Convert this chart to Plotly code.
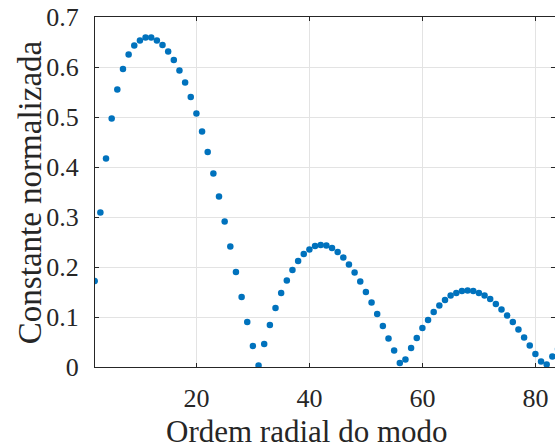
import plotly.graph_objects as go

# Radial mode order and normalized constant
ordem = list(range(2, 85))
constante = [
    0.172, 0.309, 0.417, 0.497, 0.555, 0.596, 0.625, 0.643, 0.653, 0.659,
    0.659, 0.653, 0.644, 0.631, 0.614, 0.593, 0.569, 0.540, 0.507, 0.471,
    0.430, 0.387, 0.341, 0.291, 0.241, 0.190, 0.140, 0.090, 0.042, 0.003,
    0.046, 0.084, 0.118, 0.148, 0.173, 0.194, 0.212, 0.226, 0.235, 0.242,
    0.244, 0.243, 0.238, 0.230, 0.219, 0.205, 0.189, 0.171, 0.150, 0.129,
    0.106, 0.082, 0.057, 0.033, 0.008, 0.015, 0.038, 0.058, 0.078, 0.094,
    0.110, 0.123, 0.134, 0.143, 0.148, 0.152, 0.153, 0.152, 0.148, 0.143,
    0.136, 0.126, 0.115, 0.103, 0.090, 0.075, 0.059, 0.043, 0.026, 0.011,
    0.005, 0.021, 0.036,
]

x_ticks = [20, 40, 60, 80]
y_ticks = [0, 0.1, 0.2, 0.3, 0.4, 0.5, 0.6, 0.7]
y_tick_text = ["0", "0.1", "0.2", "0.3", "0.4", "0.5", "0.6", "0.7"]

FONT = "Liberation Serif"
AXIS_COLOR = "#262626"

fig = go.Figure(
    go.Scatter(
        x=ordem,
        y=constante,
        mode="markers",
        marker=dict(color="#0072BD", size=6.5, line=dict(width=0)),
        showlegend=False,
    )
)

axis_common = dict(
    showline=True,
    linecolor=AXIS_COLOR,
    linewidth=1,
    mirror="ticks",
    ticks="inside",
    ticklen=4,
    tickcolor=AXIS_COLOR,
    showgrid=True,
    gridcolor="#e3e3e3",
    gridwidth=1,
    zeroline=False,
    tickfont=dict(family=FONT, size=26, color=AXIS_COLOR),
)

fig.update_xaxes(
    range=[2.05, 83.47],
    tickvals=x_ticks,
    ticktext=[str(v) for v in x_ticks],
    ticklabelstandoff=8,
    **axis_common,
)
fig.update_yaxes(
    range=[0, 0.7],
    tickvals=y_ticks,
    ticktext=y_tick_text,
    ticklabelstandoff=10,
    **axis_common,
)

fig.add_annotation(
    text="Ordem radial do modo",
    xref="paper", yref="paper",
    x=0.46, y=-0.128,
    xanchor="center", yanchor="top",
    showarrow=False,
    font=dict(family=FONT, size=31, color=AXIS_COLOR),
)
fig.add_annotation(
    text="Constante normalizada",
    xref="paper", yref="paper",
    x=-0.141, y=0.5,
    xanchor="center", yanchor="middle",
    textangle=-90,
    showarrow=False,
    font=dict(family=FONT, size=33, color=AXIS_COLOR),
)

fig.update_layout(
    width=555,
    height=443,
    margin=dict(l=95, r=0, t=17, b=76),
    plot_bgcolor="white",
    paper_bgcolor="white",
)

fig.write_html("out.html")
